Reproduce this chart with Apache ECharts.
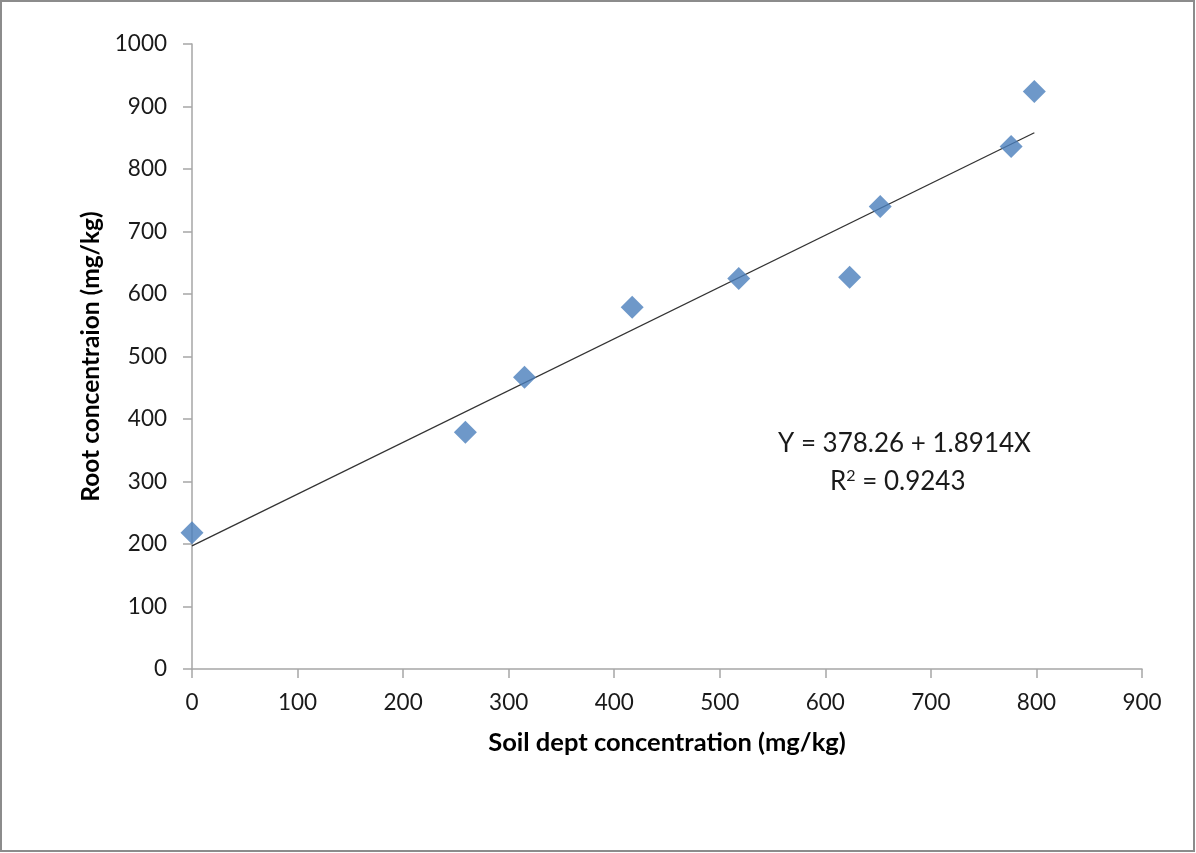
<!DOCTYPE html>
<html>
<head>
<meta charset="utf-8">
<script src="https://cdn.jsdelivr.net/npm/echarts@6/dist/echarts.min.js"></script>
<style>
  html, body { margin: 0; padding: 0; background: #fff; }
  #chart { width: 1196px; height: 853px; }
</style>
</head>
<body>
<div id="chart"></div>
<script>
// Soil vs root concentration measurements (mg/kg)
const soilConc = [0, 259, 315, 417, 518, 623, 652, 776, 798];
const rootConc = [218, 379, 467, 579, 625, 627, 740, 836, 924];

// Fitted trend line end points
const trendX = [0, 798];
const trendY = [197, 858];

const xTicks = { min: 0, max: 900, interval: 100 };
const yTicks = { min: 0, max: 1000, interval: 100 };

const equationText = 'Y = 378.26 + 1.8914X';
const r2Text = 'R{sup|2} = 0.9243';

const xTitle = 'Soil dept concentration (mg/kg)';
const yTitle = 'Root concentraion (mg/kg)';

const points = soilConc.map((x, i) => [x, rootConc[i]]);
const trend = trendX.map((x, i) => [x, trendY[i]]);

const font = 'Lato, "Open Sans", sans-serif';
const axisGray = '#a6a6a6';
const plainNumber = v => String(v);

const chart = echarts.init(document.getElementById('chart'), null, { renderer: 'canvas' });
chart.setOption({
  backgroundColor: '#ffffff',
  animation: false,
  grid: { left: 192, top: 44, right: 54, bottom: 184, containLabel: false },
  xAxis: {
    type: 'value',
    min: xTicks.min, max: xTicks.max, interval: xTicks.interval,
    name: xTitle,
    nameLocation: 'middle',
    nameGap: 61,
    nameTextStyle: { fontFamily: font, fontSize: 25.5, fontWeight: 'bold', color: '#000' },
    axisLine: { show: true, lineStyle: { color: axisGray, width: 1.5 } },
    axisTick: { show: true, inside: false, length: 9, lineStyle: { color: axisGray, width: 1.5 } },
    axisLabel: { fontFamily: font, fontSize: 22.5, color: '#1a1a1a', margin: 22, formatter: plainNumber },
    splitLine: { show: false }
  },
  yAxis: {
    type: 'value',
    min: yTicks.min, max: yTicks.max, interval: yTicks.interval,
    name: yTitle,
    nameLocation: 'middle',
    nameGap: 88,
    nameTextStyle: { fontFamily: font, fontSize: 24.5, fontWeight: 'bold', color: '#000' },
    axisLine: { show: true, lineStyle: { color: axisGray, width: 1.5 } },
    axisTick: { show: true, inside: false, length: 9, lineStyle: { color: axisGray, width: 1.5 } },
    axisLabel: { fontFamily: font, fontSize: 22.5, color: '#1a1a1a', margin: 25, formatter: plainNumber },
    splitLine: { show: false }
  },
  series: [
    {
      type: 'line',
      data: trend,
      symbol: 'none',
      lineStyle: { color: '#333333', width: 1.3 },
      z: 2
    },
    {
      type: 'scatter',
      data: points,
      symbol: 'diamond',
      symbolSize: [23, 23],
      itemStyle: { color: '#4a7ebb' },
      z: 3
    }
  ],
  graphic: [
    {
      type: 'rect',
      shape: { x: 1, y: 1, width: 1193, height: 850 },
      style: { fill: 'none', stroke: '#8c8c8c', lineWidth: 2 },
      silent: true
    },
    {
      type: 'text',
      left: 778, top: 431,
      style: { text: equationText, font: '26px ' + font, fill: '#1a1a1a' }
    },
    {
      type: 'text',
      left: 830, top: 468,
      style: {
        text: r2Text,
        font: '26px ' + font,
        fill: '#1a1a1a',
        rich: {
          sup: { fontSize: 16, fontFamily: font, verticalAlign: 'top', padding: [0, 0, 12, 0], fill: '#1a1a1a' }
        }
      }
    }
  ]
});
</script>
</body>
</html>
